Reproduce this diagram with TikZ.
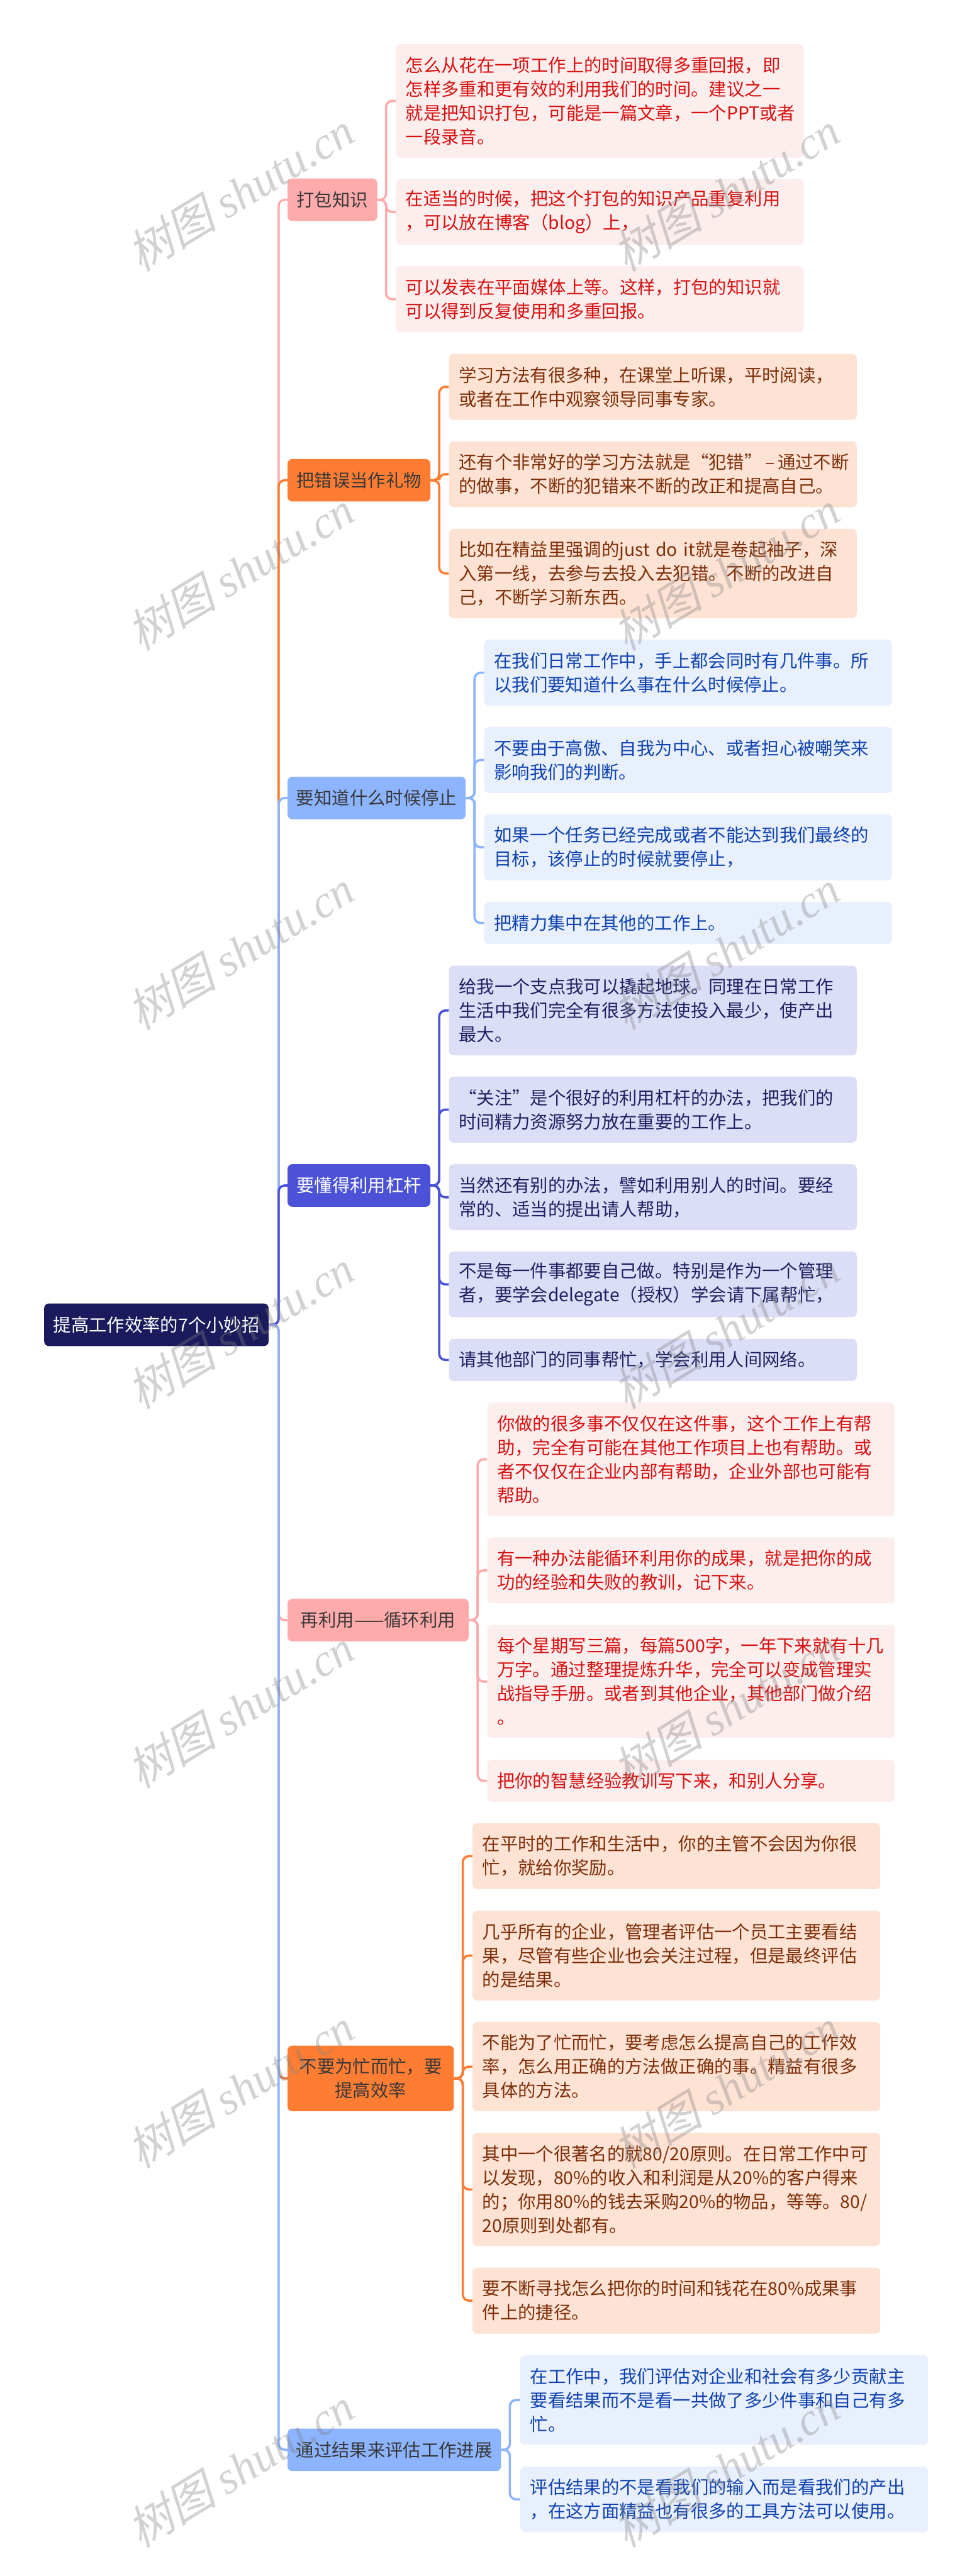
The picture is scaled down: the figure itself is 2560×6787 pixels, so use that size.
\documentclass[tikz,border=0pt]{standalone}
\usepackage{fontspec}
\setmainfont{Noto Sans CJK SC}
\newfontfamily\wmlatin{Liberation Serif Italic}
\newfontfamily\wmcjk[FakeSlant=0.25]{Noto Sans CJK SC}
\definecolor{pkL}{HTML}{FFABAB}\definecolor{pkF}{HTML}{FDEEEE}\definecolor{pkT}{HTML}{D81010}
\definecolor{orL}{HTML}{FF7D33}\definecolor{orF}{HTML}{FEE3D5}\definecolor{orT}{HTML}{7D2E08}
\definecolor{blL}{HTML}{8CB4FF}\definecolor{blF}{HTML}{E8EFFD}\definecolor{blT}{HTML}{0F42B0}
\definecolor{inL}{HTML}{4B52D8}\definecolor{inF}{HTML}{DCDEF8}\definecolor{inT}{HTML}{1F2060}
\definecolor{rootC}{HTML}{1A1A5C}
\tikzset{
  tall/.style={minimum height=#1*0.5pt},
  base/.style={rounded corners=6pt,inner ysep=0pt,anchor=north west,font=\fontsize{23.5}{31.5}\selectfont},
  leaf/.style={base,inner xsep=13pt,text width=511pt,align=left},
  pkleaf/.style={leaf,fill=pkF,text=pkT},
  orleaf/.style={leaf,fill=orF,text=orT},
  blleaf/.style={leaf,fill=blF,text=blT},
  inleaf/.style={leaf,fill=inF,text=inT},
  topic/.style={base,inner xsep=0pt,minimum width=#1*0.5pt,align=center,text=black!78},
  link/.style={line width=3pt,rounded corners=8pt,draw=#1}
}
\begin{document}
\begin{tikzpicture}[x=0.5pt,y=-0.5pt]
\useasboundingbox (0,0) rectangle (2560,6787);
\fill[white] (0,0) rectangle (2560,6787);
% root
\node[base,inner xsep=0pt,minimum width=591*0.5pt,tall=112,fill=rootC,text=white] (root) at (116,3434) {提高工作效率的7个小妙招};
% topics
\node[topic=236,tall=112,fill=pkL] (t1) at (757,470) {打包知识};
\node[topic=376,tall=112,fill=orL] (t2) at (757,1209) {把错误当作礼物};
\node[topic=469,tall=112,fill=blL] (t3) at (757,2046) {要知道什么时候停止};
\node[topic=376,tall=112,fill=inL,text=white] (t4) at (757,3067) {要懂得利用杠杆};
\node[topic=477,tall=112,fill=pkL] (t5) at (757,4212) {再利用——循环利用};
\node[topic=438,tall=173,fill=orL] (t6) at (757,5389) {不要为忙而忙^^^^ff0c要\\提高效率};
\node[topic=562,tall=112,fill=blL] (t7) at (757,6398) {通过结果来评估工作进展};
% group 1
\node[pkleaf,tall=299] (a1) at (1042,116) {怎么从花在一项工作上的时间取得多重回报^^^^ff0c即\\怎样多重和更有效的利用我们的时间。建议之一\\就是把知识打包^^^^ff0c可能是一篇文章^^^^ff0c一个PPT或者\\一段录音。};
\node[pkleaf,tall=174] (a2) at (1042,471) {在适当的时候^^^^ff0c把这个打包的知识产品重复利用\\^^^^ff0c可以放在博客^^^^ff08blog^^^^ff09上^^^^ff0c};
\node[pkleaf,tall=174] (a3) at (1042,701) {可以发表在平面媒体上等。这样^^^^ff0c打包的知识就\\可以得到反复使用和多重回报。};
% group 2
\node[orleaf,tall=174] (b1) at (1182,932) {学习方法有很多种^^^^ff0c在课堂上听课^^^^ff0c平时阅读^^^^ff0c\\或者在工作中观察领导同事专家。};
\node[orleaf,tall=174] (b2) at (1182,1162) {\mbox{还有个非常好的学习方法就是“犯错”\,–\,通过不断}\\的做事^^^^ff0c不断的犯错来不断的改正和提高自己。};
\node[orleaf,tall=235] (b3) at (1182,1393) {比如在精益里强调的just~do~it就是卷起袖子^^^^ff0c深\\入第一线^^^^ff0c去参与去投入去犯错。不断的改进自\\己^^^^ff0c不断学习新东西。};
% group 3
\node[blleaf,tall=174] (c1) at (1275,1685) {在我们日常工作中^^^^ff0c手上都会同时有几件事。所\\以我们要知道什么事在什么时候停止。};
\node[blleaf,tall=174] (c2) at (1275,1915) {不要由于高傲、自我为中心、或者担心被嘲笑来\\影响我们的判断。};
\node[blleaf,tall=174] (c3) at (1275,2145) {如果一个任务已经完成或者不能达到我们最终的\\目标^^^^ff0c该停止的时候就要停止^^^^ff0c};
\node[blleaf,tall=111] (c4) at (1275,2376) {把精力集中在其他的工作上。};
% group 4
\node[inleaf,tall=236] (d1) at (1182,2544) {给我一个支点我可以撬起地球。同理在日常工作\\生活中我们完全有很多方法使投入最少^^^^ff0c使产出\\最大。};
\node[inleaf,tall=174] (d2) at (1182,2836) {“关注”是个很好的利用杠杆的办法^^^^ff0c把我们的\\时间精力资源努力放在重要的工作上。};
\node[inleaf,tall=174] (d3) at (1182,3067) {当然还有别的办法^^^^ff0c譬如利用别人的时间。要经\\常的、适当的提出请人帮助^^^^ff0c};
\node[inleaf,tall=173] (d4) at (1182,3297) {不是每一件事都要自己做。特别是作为一个管理\\者^^^^ff0c要学会delegate^^^^ff08授权^^^^ff09学会请下属帮忙^^^^ff0c};
\node[inleaf,tall=111] (d5) at (1182,3527) {请其他部门的同事帮忙^^^^ff0c学会利用人间网络。};
% group 5
\node[pkleaf,tall=299] (e1) at (1283,3695) {你做的很多事不仅仅在这件事^^^^ff0c这个工作上有帮\\助^^^^ff0c完全有可能在其他工作项目上也有帮助。或\\者不仅仅在企业内部有帮助^^^^ff0c企业外部也可能有\\帮助。};
\node[pkleaf,tall=174] (e2) at (1283,4050) {有一种办法能循环利用你的成果^^^^ff0c就是把你的成\\功的经验和失败的教训^^^^ff0c记下来。};
\node[pkleaf,tall=298] (e3) at (1283,4281) {每个星期写三篇^^^^ff0c每篇500字^^^^ff0c一年下来就有十几\\万字。通过整理提炼升华^^^^ff0c完全可以变成管理实\\战指导手册。或者到其他企业^^^^ff0c其他部门做介绍\\。};
\node[pkleaf,tall=111] (e4) at (1283,4636) {把你的智慧经验教训写下来^^^^ff0c和别人分享。};
% group 6
\node[orleaf,tall=174] (f1) at (1244,4803) {在平时的工作和生活中^^^^ff0c你的主管不会因为你很\\忙^^^^ff0c就给你奖励。};
\node[orleaf,tall=236] (f2) at (1244,5034) {几乎所有的企业^^^^ff0c管理者评估一个员工主要看结\\果^^^^ff0c尽管有些企业也会关注过程^^^^ff0c但是最终评估\\的是结果。};
\node[orleaf,tall=235] (f3) at (1244,5327) {不能为了忙而忙^^^^ff0c要考虑怎么提高自己的工作效\\率^^^^ff0c怎么用正确的方法做正确的事。精益有很多\\具体的方法。};
\node[orleaf,tall=298] (f4) at (1244,5619) {其中一个很著名的就80/20原则。在日常工作中可\\以发现^^^^ff0c80\%的收入和利润是从20\%的客户得来\\的^^^^ff1b你用80\%的钱去采购20\%的物品^^^^ff0c等等。80/\\20原则到处都有。};
\node[orleaf,tall=174] (f5) at (1244,5974) {要不断寻找怎么把你的时间和钱花在80\%成果事\\件上的捷径。};
% group 7
\node[blleaf,tall=236] (g1) at (1370,6205) {在工作中^^^^ff0c我们评估对企业和社会有多少贡献主\\要看结果而不是看一共做了多少件事和自己有多\\忙。};
\node[blleaf,tall=173] (g2) at (1370,6498) {评估结果的不是看我们的输入而是看我们的产出\\^^^^ff0c在这方面精益也有很多的工具方法可以使用。};
% trunk connectors, drawn in order so that the nearer branch lies on top
\draw[link=pkL] (root.east) -- ++(26,0) |- (t1.west);
\draw[link=orL] (root.east) -- ++(26,0) |- (t2.west);
\draw[link=blL] (root.east) -- ++(26,0) |- (t3.west);
\draw[link=inL] (root.east) -- ++(26,0) |- (t4.west);
\draw[link=pkL] (root.east) -- ++(26,0) |- (t5.west);
\draw[link=orL] (root.east) -- ++(26,0) |- (t6.west);
\draw[link=blL] (root.east) -- ++(26,0) |- (t7.west);
% leaf connectors
\foreach \n in {a1,a2,a3}{\draw[link=pkL] (t1.east) -- ++(23,0) |- (\n.west);}
\foreach \n in {b1,b2,b3}{\draw[link=orL] (t2.east) -- ++(23,0) |- (\n.west);}
\foreach \n in {c1,c2,c3,c4}{\draw[link=blL] (t3.east) -- ++(23,0) |- (\n.west);}
\foreach \n in {d1,d2,d3,d4,d5}{\draw[link=inL] (t4.east) -- ++(23,0) |- (\n.west);}
\foreach \n in {e1,e2,e3,e4}{\draw[link=pkL] (t5.east) -- ++(23,0) |- (\n.west);}
\foreach \n in {f1,f2,f3,f4,f5}{\draw[link=orL] (t6.east) -- ++(23,0) |- (\n.west);}
\foreach \n in {g1,g2}{\draw[link=blL] (t7.east) -- ++(23,0) |- (\n.west);}
% watermark
\foreach \k in {0,...,6}{
  \foreach \c/\xx in {l/632,r/1912}{
    \node[rotate=31.4,text=gray,opacity=0.35,inner sep=0pt,font=\fontsize{60}{60}\selectfont] (wm\c\k) at (\xx,505+999.3*\k) {\wmcjk 树图\ \wmlatin shutu.cn};
  }
}
\end{tikzpicture}
\end{document}
